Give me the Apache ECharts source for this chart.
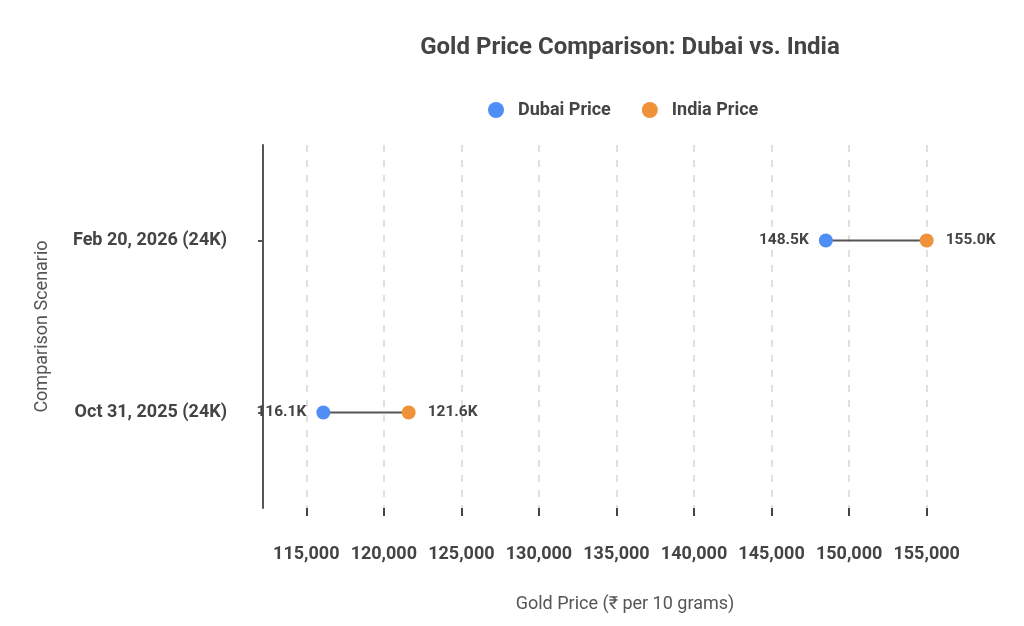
<!DOCTYPE html>
<html>
<head>
<meta charset="utf-8">
<script src="https://cdn.jsdelivr.net/npm/echarts@6/dist/echarts.min.js"></script>
<style>
  html, body { margin: 0; padding: 0; background: #fff; }
  #main { width: 1024px; height: 626px; }
</style>
</head>
<body>
<div id="main"></div>
<script>
// data
var categories = ['Oct 31, 2025 (24K)', 'Feb 20, 2026 (24K)'];
var dubaiPrice = [116100, 148500];
var indiaPrice = [121600, 155000];
var xTicks = [115000, 120000, 125000, 130000, 135000, 140000, 145000, 150000, 155000];

var chart = echarts.init(document.getElementById('main'));

function kLabel(p) {
  return (p.value[0] / 1000).toFixed(1) + 'K';
}

// connecting segment for each scenario
var connectors = categories.map(function (c, i) {
  return {
    type: 'line',
    silent: true,
    symbol: 'none',
    z: 1,
    lineStyle: { color: '#555', width: 2 },
    data: [[dubaiPrice[i], i], [indiaPrice[i], i]]
  };
});

var option = {
  backgroundColor: '#fff',
  textStyle: { fontFamily: 'Roboto' },
  title: {
    text: 'Gold Price Comparison: Dubai vs. India',
    left: 625,
    textAlign: 'center',
    top: 31,
    textStyle: { fontSize: 24, fontWeight: 'bold', color: '#444', fontFamily: 'Roboto' }
  },
  legend: {
    left: 483,
    top: 96,
    icon: 'circle',
    itemWidth: 16,
    itemHeight: 16,
    itemGap: 31,
    data: ['Dubai Price', 'India Price'],
    textStyle: { fontSize: 18, fontWeight: 'bold', color: '#444', padding: [0, 0, 0, 9] }
  },
  grid: { left: 263, right: 37, top: 145, bottom: 118 },
  xAxis: {
    type: 'value',
    min: 112210,
    max: 158890,
    name: 'Gold Price (₹ per 10 grams)',
    nameLocation: 'middle',
    nameGap: 87,
    nameTextStyle: { fontSize: 18, color: '#555' },
    axisLine: { show: false, onZero: false },
    axisTick: { show: true, length: 8, customValues: xTicks, lineStyle: { color: '#444', width: 2 } },
    axisLabel: {
      customValues: xTicks,
      margin: 37,
      fontSize: 18,
      fontWeight: 'bold',
      color: '#444',
      formatter: function (v) { return v.toLocaleString('en-US'); }
    },
    splitLine: {
      show: true,
      customValues: xTicks,
      lineStyle: { color: '#e0e0e0', width: 2, type: [7, 8] }
    }
  },
  yAxis: {
    type: 'value',
    min: -0.555,
    max: 1.555,
    name: 'Comparison Scenario',
    nameLocation: 'middle',
    nameGap: 212,
    nameTextStyle: { fontSize: 18, color: '#555' },
    axisLine: { show: true, onZero: false, lineStyle: { color: '#555', width: 2 } },
    axisTick: { show: true, length: 5, customValues: [0, 1], lineStyle: { color: '#555', width: 2 } },
    axisLabel: {
      customValues: [0, 1],
      margin: 36,
      fontSize: 18,
      fontWeight: 'bold',
      color: '#444',
      formatter: function (v) { return categories[Math.round(v)]; }
    },
    splitLine: { show: false }
  },
  series: connectors.concat([
    {
      name: 'Dubai Price',
      type: 'scatter',
      symbolSize: 14,
      z: 3,
      itemStyle: { color: '#4e8ef5', opacity: 1 },
      label: {
        show: true, position: 'left', distance: 10,
        fontSize: 15.5, fontWeight: 'bold', color: '#444',
        formatter: kLabel
      },
      data: dubaiPrice.map(function (v, i) { return [v, i]; })
    },
    {
      name: 'India Price',
      type: 'scatter',
      symbolSize: 14,
      z: 3,
      itemStyle: { color: '#f0923a', opacity: 1 },
      label: {
        show: true, position: 'right', distance: 12,
        fontSize: 15.5, fontWeight: 'bold', color: '#444',
        formatter: kLabel
      },
      data: indiaPrice.map(function (v, i) { return [v, i]; })
    }
  ])
};

chart.setOption(option);
</script>
</body>
</html>
